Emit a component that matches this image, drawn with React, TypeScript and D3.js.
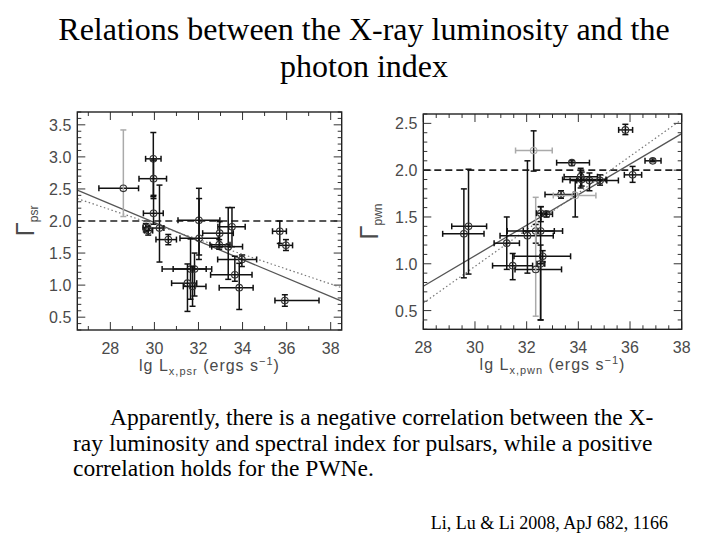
import React from "react";
import * as d3 from "d3";

// ---------- Left panel: pulsars ----------
const psrX = [28.59, 29.95, 29.96, 29.96, 30.23, 29.61, 29.72, 30.63, 32.02, 32.03, 31.64, 31.82, 31.5, 31.73, 32.96, 33.52, 32.94, 33.35, 33.97, 33.65, 33.85, 35.69, 35.97, 35.92];
const psrY = [2.51, 2.97, 2.66, 2.12, 1.89, 1.9, 1.85, 1.71, 2.01, 1.73, 1.25, 1.25, 1.03, 0.98, 1.81, 1.91, 1.63, 1.6, 1.4, 1.16, 0.96, 1.84, 1.62, 0.76];
const psrXLo = [27.48, 29.6, 29.3, 29.5, 29.77, 29.49, 29.55, 30.07, 31.07, 31.16, 30.35, 30.85, 30.78, 31.31, 32.19, 32.88, 32.52, 32.6, 32.87, 32.55, 32.94, 35.36, 35.65, 35.47];
const psrXHi = [29.28, 30.3, 30.55, 30.4, 30.43, 29.77, 29.92, 31.0, 32.97, 32.9, 32.6, 32.35, 31.92, 32.34, 33.58, 34.12, 33.43, 34.0, 34.64, 34.43, 34.48, 35.99, 36.27, 37.47];
const psrYLo = [2.07, 2.38, 2.35, 1.95, 1.36, 1.83, 1.78, 1.63, 1.4, 1.47, 0.78, 0.83, 0.59, 0.67, 1.6, 1.6, 1.56, 1.09, 1.29, 1.06, 0.62, 1.65, 1.54, 0.67];
const psrYHi = [3.42, 3.38, 2.95, 2.4, 2.56, 1.96, 1.92, 1.79, 2.51, 2.35, 1.72, 1.5, 1.33, 1.29, 1.99, 2.21, 1.71, 2.21, 1.47, 1.45, 1.34, 2.0, 1.71, 0.85];
const psrGrayY = [1, 0, 0, 0, 0, 0, 0, 0, 0, 0, 0, 0, 0, 0, 0, 0, 0, 0, 0, 0, 0, 0, 0, 0];
const psrGrayX = [0, 0, 0, 0, 0, 0, 0, 0, 0, 0, 0, 0, 0, 0, 0, 0, 0, 0, 0, 0, 0, 0, 0, 0];
const psrFitX = [26.5, 38.5];
const psrFitSolid = [2.48, 0.75];
const psrFitDotted = [2.35, 0.96];

// ---------- Right panel: PWNe ----------
const pwnX = [29.57, 29.75, 31.23, 31.46, 32.03, 32.27, 32.35, 32.35, 32.54, 32.62, 32.54, 32.55, 32.77, 33.33, 33.75, 33.88, 34.09, 34.13, 34.43, 34.84, 35.82, 36.1, 36.88];
const pwnY = [1.32, 1.4, 1.22, 0.98, 1.3, 2.21, 1.35, 0.94, 1.35, 1.08, 1.0, 1.54, 1.53, 1.74, 2.08, 1.73, 1.93, 1.9, 1.89, 1.89, 2.43, 1.95, 2.1];
const pwnXLo = [28.75, 29.1, 30.74, 30.68, 30.97, 31.57, 31.25, 31.55, 31.87, 31.51, 32.4, 32.38, 32.58, 32.71, 33.16, 33.03, 33.45, 33.39, 33.68, 33.94, 35.56, 35.78, 36.58];
const pwnXHi = [30.35, 30.45, 31.72, 32.23, 33.03, 32.99, 33.39, 33.35, 33.07, 33.7, 32.7, 32.75, 33.0, 33.81, 34.43, 34.68, 34.74, 35.07, 35.1, 35.55, 36.1, 36.45, 37.2];
const pwnYLo = [0.85, 0.89, 0.94, 0.83, 0.9, 1.99, 1.22, 0.44, 0.4, 1.02, 0.4, 1.45, 1.5, 1.7, 2.05, 1.5, 1.81, 1.83, 1.78, 1.84, 2.38, 1.87, 2.09];
const pwnYHi = [1.8, 2.01, 1.5, 1.11, 2.1, 2.42, 1.42, 1.71, 1.61, 1.14, 1.2, 1.61, 1.56, 1.78, 2.1, 1.89, 2.02, 1.98, 1.97, 1.95, 2.49, 2.04, 2.12];
const pwnGrayY = [0, 0, 0, 0, 0, 0, 0, 1, 0, 0, 0, 0, 0, 0, 0, 0, 0, 0, 0, 0, 0, 0, 0];
const pwnGrayX = [0, 0, 0, 0, 0, 1, 0, 0, 0, 0, 0, 0, 0, 0, 0, 1, 0, 0, 0, 0, 0, 0, 0];
const pwnFitX = [28, 38];
const pwnFitSolid = [0.76, 2.39];
const pwnFitDotted = [0.58, 2.54];

// ---------- Axes ----------
const psrXTicks = [28, 30, 32, 34, 36, 38];
const psrYTicks = [0.5, 1.0, 1.5, 2.0, 2.5, 3.0, 3.5];
const pwnXTicks = [28, 30, 32, 34, 36, 38];
const pwnYTicks = [0.5, 1.0, 1.5, 2.0, 2.5];
const refGamma = 2.0;

const titleLines = ["Relations between the X-ray luminosity and the", "photon index"];
const bodyLines = [
  "Apparently, there is a negative correlation between the X-",
  "ray luminosity and spectral index for pulsars, while a positive",
  "correlation holds for the PWNe.",
];
const citation = "Li, Lu & Li 2008, ApJ 682, 1166";

const SANS = "'Liberation Sans', Arial, sans-serif";
const SERIF = "'Liberation Serif', 'Times New Roman', serif";
const AX = "#4a4a4a";

type PanelProps = {
  xDomain: [number, number];
  yDomain: [number, number];
  box: { x0: number; x1: number; y0: number; y1: number };
  xTicks: number[];
  yTicks: number[];
  xMinorStep: number;
  x: number[];
  y: number[];
  xLo: number[];
  xHi: number[];
  yLo: number[];
  yHi: number[];
  grayX: number[];
  grayY: number[];
  fitX: number[];
  fitSolid: number[];
  fitDotted: number[];
  sub: string;
  yLabelX: number;
};

function Panel(p: PanelProps) {
  const xs = d3.scaleLinear().domain(p.xDomain).range([p.box.x0, p.box.x1]);
  const ys = d3.scaleLinear().domain(p.yDomain).range([p.box.y1, p.box.y0]);
  const xMinor = d3.range(Math.ceil(p.xDomain[0] / p.xMinorStep) * p.xMinorStep, p.xDomain[1] + 1e-9, p.xMinorStep);
  const yMinor = d3.range(Math.ceil(p.yDomain[0] * 10) / 10, p.yDomain[1] + 1e-9, 0.1);
  const isMajorX = (v: number) => p.xTicks.some((t) => Math.abs(t - v) < 1e-6);
  const isMajorY = (v: number) => p.yTicks.some((t) => Math.abs(t - v) < 1e-6);
  const line = d3.line<number>().x((_, i) => xs(p.fitX[i])).y((d) => ys(d));
  const cap = 3;
  const black = "#111";
  const gray = "#aaa";
  const cx = (p.box.x0 + p.box.x1) / 2;
  const cy = (p.box.y0 + p.box.y1) / 2;
  return (
    <g>
      {xMinor.map((v, i) => {
        const L = isMajorX(v) ? 8 : 4;
        return (
          <g key={"xt" + i} stroke="#333" strokeWidth={1}>
            <line x1={xs(v)} x2={xs(v)} y1={p.box.y1} y2={p.box.y1 - L} />
            <line x1={xs(v)} x2={xs(v)} y1={p.box.y0} y2={p.box.y0 + L} />
          </g>
        );
      })}
      {yMinor.map((v, i) => {
        const L = isMajorY(Math.round(v * 10) / 10) ? 8 : 4;
        return (
          <g key={"yt" + i} stroke="#333" strokeWidth={1}>
            <line x1={p.box.x0} x2={p.box.x0 + L} y1={ys(v)} y2={ys(v)} />
            <line x1={p.box.x1} x2={p.box.x1 - L} y1={ys(v)} y2={ys(v)} />
          </g>
        );
      })}
      <line x1={p.box.x0} x2={p.box.x1} y1={ys(refGamma)} y2={ys(refGamma)} stroke="#222" strokeWidth={1.6} strokeDasharray="7,4" />
      <path d={line(p.fitSolid) || ""} fill="none" stroke="#555" strokeWidth={1.3} />
      <path d={line(p.fitDotted) || ""} fill="none" stroke="#777" strokeWidth={1.2} strokeDasharray="1.5,2.5" />
      {p.x.map((xv, i) => {
        const cx0 = xs(xv);
        const cy0 = ys(p.y[i]);
        const cX = p.grayX[i] ? gray : black;
        const cY = p.grayY[i] ? gray : black;
        const cC = p.grayX[i] ? gray : "#333";
        return (
          <g key={"pt" + i} fill="none" strokeWidth={1.5}>
            <g stroke={cX}>
              <line x1={xs(p.xLo[i])} x2={xs(p.xHi[i])} y1={cy0} y2={cy0} />
              <line x1={xs(p.xLo[i])} x2={xs(p.xLo[i])} y1={cy0 - cap} y2={cy0 + cap} />
              <line x1={xs(p.xHi[i])} x2={xs(p.xHi[i])} y1={cy0 - cap} y2={cy0 + cap} />
            </g>
            <g stroke={cY}>
              <line x1={cx0} x2={cx0} y1={ys(p.yLo[i])} y2={ys(p.yHi[i])} />
              <line x1={cx0 - cap} x2={cx0 + cap} y1={ys(p.yLo[i])} y2={ys(p.yLo[i])} />
              <line x1={cx0 - cap} x2={cx0 + cap} y1={ys(p.yHi[i])} y2={ys(p.yHi[i])} />
            </g>
            <circle cx={cx0} cy={cy0} r={3.3} stroke={cC} strokeWidth={1.1} />
          </g>
        );
      })}
      <rect x={p.box.x0} y={p.box.y0} width={p.box.x1 - p.box.x0} height={p.box.y1 - p.box.y0} fill="none" stroke="#222" strokeWidth={1.4} />
      {p.xTicks.map((t) => (
        <text key={"xl" + t} x={xs(t)} y={p.box.y1 + 24} textAnchor="middle" fontFamily={SANS} fontSize={16} fill={AX}>
          {t}
        </text>
      ))}
      {p.yTicks.map((t) => (
        <text key={"yl" + t} x={p.box.x0 - 6} y={ys(t) + 6} textAnchor="end" fontFamily={SANS} fontSize={16} fill={AX}>
          {t.toFixed(1)}
        </text>
      ))}
      <text x={cx} y={p.box.y1 + 41} textAnchor="middle" fontFamily={SANS} fontSize={16} fill={AX} letterSpacing={1}>
        <tspan>lg L</tspan>
        <tspan fontSize={11} dy={4}>{"x," + p.sub}</tspan>
        <tspan dy={-4}>{"  (ergs s"}</tspan>
        <tspan fontSize={11} dy={-6}>{"−1"}</tspan>
        <tspan dy={6}>)</tspan>
      </text>
      <text transform={`translate(${p.yLabelX},${cy}) rotate(-90)`} textAnchor="middle" fontFamily={SANS} fontSize={26} fill={AX}>
        <tspan>Γ</tspan>
        <tspan fontSize={12} dy={4}>{p.sub}</tspan>
      </text>
    </g>
  );
}

export default function App() {
  return (
    <svg width={720} height={540} style={{ position: "absolute", left: 0, top: 0, background: "#fff" }}>
      <rect width={720} height={540} fill="#fff" />
      {titleLines.map((t, i) => (
        <text key={"t" + i} x={364} y={40 + i * 37} textAnchor="middle" fontFamily={SERIF} fontSize={32} fill="#000">
          {t}
        </text>
      ))}
      <Panel
        xDomain={[26.5, 38.5]}
        yDomain={[0.3, 3.7]}
        box={{ x0: 77.3, x1: 341.7, y0: 112, y1: 330 }}
        xTicks={psrXTicks}
        yTicks={psrYTicks}
        xMinorStep={1}
        x={psrX}
        y={psrY}
        xLo={psrXLo}
        xHi={psrXHi}
        yLo={psrYLo}
        yHi={psrYHi}
        grayX={psrGrayX}
        grayY={psrGrayY}
        fitX={psrFitX}
        fitSolid={psrFitSolid}
        fitDotted={psrFitDotted}
        sub="psr"
        yLabelX={34}
      />
      <Panel
        xDomain={[28, 38]}
        yDomain={[0.3, 2.6]}
        box={{ x0: 423.3, x1: 681.7, y0: 114, y1: 329.3 }}
        xTicks={pwnXTicks}
        yTicks={pwnYTicks}
        xMinorStep={0.5}
        x={pwnX}
        y={pwnY}
        xLo={pwnXLo}
        xHi={pwnXHi}
        yLo={pwnYLo}
        yHi={pwnYHi}
        grayX={pwnGrayX}
        grayY={pwnGrayY}
        fitX={pwnFitX}
        fitSolid={pwnFitSolid}
        fitDotted={pwnFitDotted}
        sub="pwn"
        yLabelX={378}
      />
      {bodyLines.map((t, i) => (
        <text key={"b" + i} x={i === 0 ? 110 : 73} y={425 + i * 25.5} fontFamily={SERIF} fontSize={23.5} fill="#000">
          {t}
        </text>
      ))}
      <text x={668} y={529} textAnchor="end" fontFamily={SERIF} fontSize={18} fill="#000">
        {citation}
      </text>
    </svg>
  );
}
